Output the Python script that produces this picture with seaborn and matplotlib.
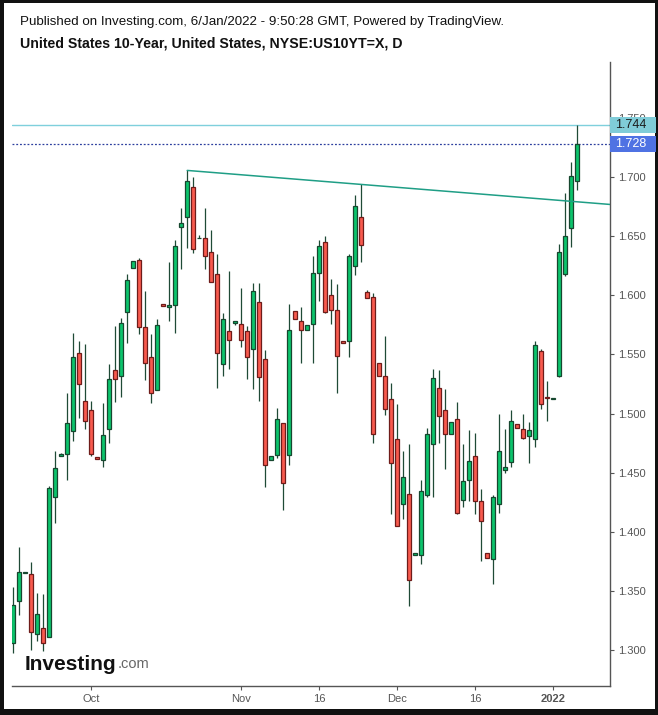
import numpy as np
import pandas as pd
import matplotlib
matplotlib.use("Agg")
import matplotlib.pyplot as plt
import matplotlib.transforms as mtransforms
from matplotlib.patches import Rectangle
import seaborn as sns

# ---- data (daily candles, Sep 2021 - 6 Jan 2022) ----
opens = [1.306, 1.341, 1.365, 1.364, 1.313, 1.318, 1.311, 1.4295, 1.464, 1.466,
         1.485, 1.551, 1.511, 1.503, 1.4628, 1.461, 1.487, 1.537, 1.532, 1.586,
         1.623, 1.6296, 1.573, 1.548, 1.520, 1.5924, 1.590, 1.592, 1.658, 1.666,
         1.692, 1.6485, 1.649, 1.637, 1.618, 1.542, 1.5696, 1.5763, 1.576, 1.5696,
         1.555, 1.594, 1.546, 1.461, 1.465, 1.492, 1.465, 1.5865, 1.578, 1.571,
         1.576, 1.619, 1.645, 1.600, 1.588, 1.561, 1.561, 1.625, 1.666, 1.6026,
         1.599, 1.5425, 1.532, 1.512, 1.478, 1.423, 1.432, 1.380, 1.380, 1.431,
         1.474, 1.522, 1.503, 1.483, 1.495, 1.427, 1.444, 1.464, 1.426, 1.3816,
         1.3765, 1.423, 1.452, 1.4587, 1.4908, 1.487, 1.481, 1.478, 1.5526, 1.5138,
         1.5126, 1.532, 1.618, 1.657, 1.697]
highs = [1.353, 1.387, 1.366, 1.374, 1.348, 1.347, 1.439, 1.468, 1.4665, 1.517,
         1.568, 1.561, 1.559, 1.511, 1.4628, 1.509, 1.542, 1.574, 1.581, 1.618,
         1.629, 1.632, 1.604, 1.567, 1.580, 1.5924, 1.628, 1.647, 1.674, 1.706,
         1.700, 1.651, 1.674, 1.655, 1.635, 1.585, 1.621, 1.578, 1.606, 1.574,
         1.6105, 1.6105, 1.5535, 1.464, 1.505, 1.492, 1.593, 1.5865, 1.590, 1.575,
         1.633, 1.647, 1.650, 1.614, 1.610, 1.561, 1.635, 1.685, 1.694, 1.6043,
         1.6017, 1.5425, 1.566, 1.5255, 1.508, 1.468, 1.474, 1.3816, 1.444, 1.488,
         1.538, 1.537, 1.521, 1.493, 1.5095, 1.474, 1.486, 1.4835, 1.436, 1.3816,
         1.4307, 1.4996, 1.487, 1.503, 1.4908, 1.4993, 1.4925, 1.5614, 1.5543, 1.5272,
         1.5132, 1.6432, 1.6864, 1.7127, 1.744]
lows = [1.297, 1.329, 1.365, 1.300, 1.307, 1.299, 1.311, 1.4075, 1.464, 1.444,
        1.477, 1.496, 1.487, 1.464, 1.4611, 1.455, 1.475, 1.510, 1.514, 1.560,
        1.623, 1.567, 1.528, 1.509, 1.520, 1.5907, 1.578, 1.568, 1.622, 1.640,
        1.636, 1.6485, 1.622, 1.611, 1.522, 1.532, 1.538, 1.575, 1.556, 1.5295,
        1.521, 1.511, 1.438, 1.461, 1.462, 1.418, 1.456, 1.580, 1.543, 1.571,
        1.543, 1.5955, 1.585, 1.576, 1.517, 1.5594, 1.548, 1.617, 1.6286, 1.5975,
        1.4753, 1.532, 1.499, 1.4146, 1.405, 1.411, 1.337, 1.380, 1.373, 1.4296,
        1.4296, 1.475, 1.453, 1.483, 1.4146, 1.421, 1.426, 1.4146, 1.375, 1.3774,
        1.356, 1.416, 1.450, 1.4544, 1.4874, 1.478, 1.458, 1.472, 1.5035, 1.4934,
        1.5126, 1.531, 1.616, 1.641, 1.689]
closes = [1.338, 1.366, 1.366, 1.315, 1.330, 1.306, 1.437, 1.454, 1.466, 1.492,
          1.5475, 1.525, 1.494, 1.466, 1.4611, 1.482, 1.529, 1.529, 1.577, 1.613,
          1.629, 1.573, 1.543, 1.517, 1.575, 1.5907, 1.592, 1.6415, 1.661, 1.6965,
          1.639, 1.649, 1.633, 1.611, 1.551, 1.580, 1.562, 1.578, 1.562, 1.548,
          1.604, 1.531, 1.456, 1.464, 1.495, 1.441, 1.571, 1.580, 1.571, 1.575,
          1.619, 1.6415, 1.586, 1.588, 1.549, 1.5594, 1.633, 1.676, 1.643, 1.5975,
          1.483, 1.532, 1.5035, 1.458, 1.405, 1.446, 1.359, 1.3816, 1.434, 1.483,
          1.530, 1.498, 1.483, 1.493, 1.4155, 1.443, 1.4595, 1.426, 1.409, 1.378,
          1.429, 1.468, 1.4544, 1.494, 1.4874, 1.479, 1.4857, 1.558, 1.508, 1.5132,
          1.5132, 1.637, 1.650, 1.701, 1.728]

tick_bars = [13, 38, 51, 64, 77, 90]
tick_labels = ["Oct", "Nov", "16", "Dec", "16", "2022"]
y_ticks = [1.300, 1.350, 1.400, 1.450, 1.500, 1.550, 1.600, 1.650, 1.700, 1.750]
trend_x = [29, 99.5]
trend_y = [1.7058, 1.677]
session_high = 1.744
last_price = 1.728

title_line1 = "Published on Investing.com, 6/Jan/2022 - 9:50:28 GMT, Powered by TradingView."
title_line2 = "United States 10-Year, United States, NYSE:US10YT=X, D"

df = pd.DataFrame({"bar": np.arange(len(opens)), "open": opens, "high": highs,
                   "low": lows, "close": closes})
df["up"] = df["close"] >= df["open"]
df["body_lo"] = df[["open", "close"]].min(axis=1)
df["body_h"] = (df["close"] - df["open"]).abs().clip(lower=0.0004)

sns.set_theme(style="white")
plt.rcParams["font.family"] = ["Liberation Sans", "DejaVu Sans"]

W, H = 658, 715
fig = plt.figure(figsize=(W / 100, H / 100), dpi=100, facecolor="#111111")
fig.add_artist(Rectangle((4 / W, 6 / H), 651 / W, 706 / H, transform=fig.transFigure,
                         facecolor="white", edgecolor="none", zorder=-10))
ax = fig.add_axes([12 / W, 29 / H, 598 / W, 624 / H])
ax.set_facecolor("white")

GREEN, GREEN_E = "#0cc46c", "#17472f"
RED, RED_E = "#f85a4e", "#6e1c1a"
WICK = "#1f4a36"

ax.vlines(df["bar"], df["low"], df["high"], color=WICK, lw=0.9, zorder=2)
ax.bar(df["bar"], df["body_h"], bottom=df["body_lo"], width=0.62,
       color=np.where(df["up"], GREEN, RED),
       edgecolor=np.where(df["up"], GREEN_E, RED_E), linewidth=0.9, zorder=3)

sns.lineplot(x=trend_x, y=trend_y, ax=ax, color="#1f9e86", lw=1.1, zorder=4)
ax.axhline(session_high, color="#7fd0dc", lw=1.0, zorder=1)
ax.axhline(last_price, color="#2c3f9e", lw=0.9, ls=(0, (1.5, 1.5)), zorder=1)

ax.set_xlim(-0.22, 99.5)
ax.set_ylim(1.2693, 1.7976)

for s in ["left", "top"]:
    ax.spines[s].set_visible(False)
for s in ["right", "bottom"]:
    ax.spines[s].set_color("#555555")
    ax.spines[s].set_linewidth(1.0)

ax.yaxis.tick_right()
ax.set_yticks(y_ticks)
ax.set_yticklabels([f"{v:.3f}" for v in y_ticks])
ax.set_xticks(tick_bars)
ax.set_xticklabels(tick_labels)
ax.get_xticklabels()[-1].set_fontweight("bold")
ax.tick_params(axis="both", which="both", direction="out", length=3, width=0.8,
               color="#555555", labelcolor="#555555", labelsize=8, pad=2.5)
ax.tick_params(axis="y", left=False, right=True, labelleft=False, labelright=True)
ax.tick_params(axis="x", bottom=True, top=False)
ax.grid(False)
ax.set_xlabel("")
ax.set_ylabel("")

# price labels on the right axis
trans = mtransforms.blended_transform_factory(ax.transAxes, ax.transData)
bh = 16 / 1181.0
for val, fc, tc in [(session_high, "#80ccd8", "#1a1a1a"), (last_price, "#4f72e3", "white")]:
    ax.add_patch(Rectangle((1.0, val - bh / 2), 46 / 598, bh, transform=trans,
                           facecolor=fc, edgecolor="none", clip_on=False, zorder=10))
    ax.text(1.0 + 21 / 598, val, f"{val:.3f}", transform=trans, ha="center",
            va="center", fontsize=9, color=tc, clip_on=False, zorder=11)

# header
fig.text(20 / W, 1 - 22.5 / H, title_line1, fontsize=9.6, color="#111111",
         ha="left", va="center")
fig.text(20 / W, 1 - 44 / H, title_line2, fontsize=10.2, fontweight="bold",
         color="#111111", ha="left", va="center")

# logo
logo = fig.text(25 / W, 1 - 664 / H, "Investing", fontsize=15, fontweight="bold",
                color="#111111", ha="left", va="center")
ax.annotate(".com", xy=(1, 0), xycoords=logo, xytext=(0.5, 1.5),
            textcoords="offset points", fontsize=10.5, color="#666666",
            ha="left", va="bottom", annotation_clip=False)

fig.savefig("out.png", dpi=100, facecolor=fig.get_facecolor())
